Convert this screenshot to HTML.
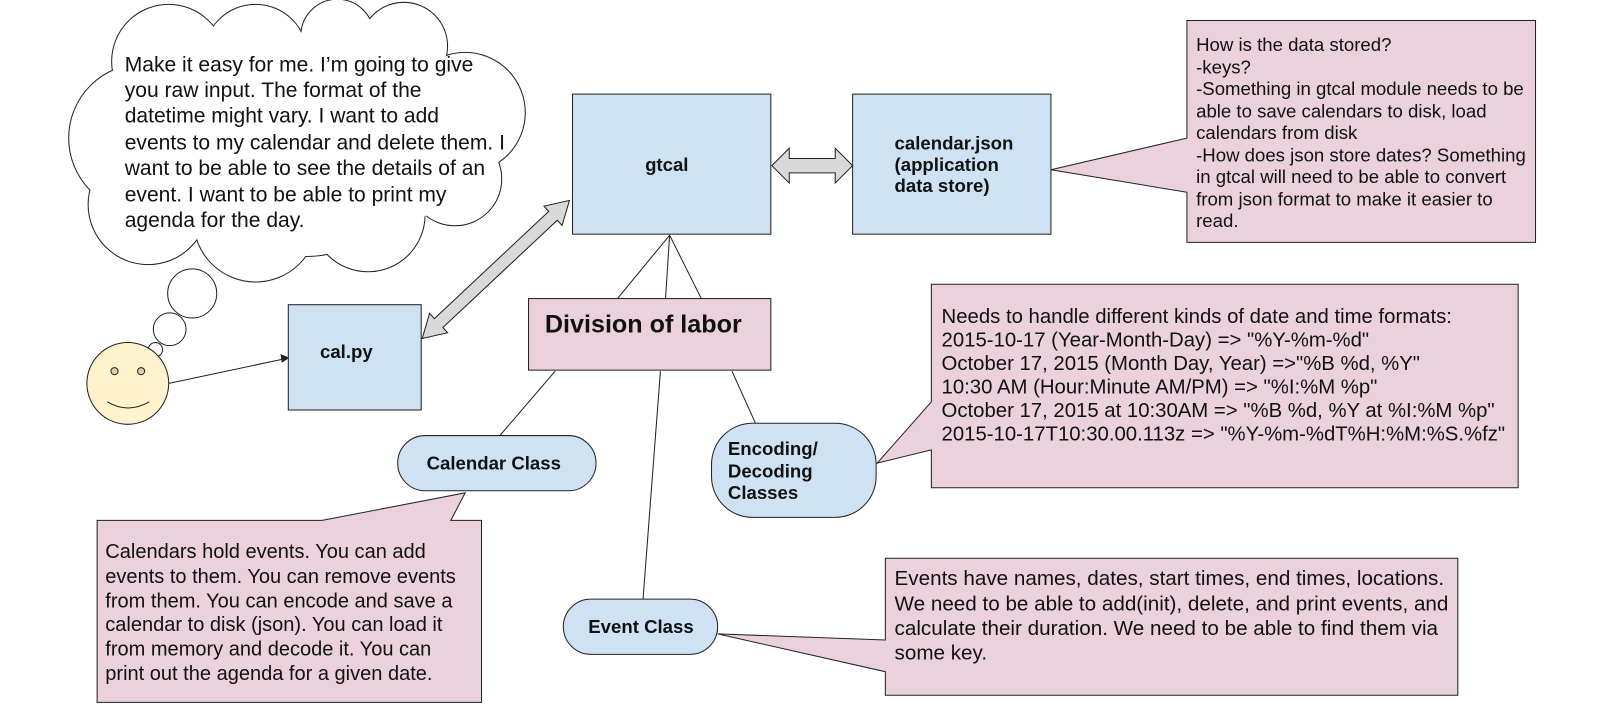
<!DOCTYPE html>
<html><head><meta charset="utf-8"><style>
html,body{margin:0;padding:0;background:#fff;}
svg{display:block;font-family:"Liberation Sans",Arial,sans-serif;}
.t{font-size:17px;fill:#111;}
.s{font-size:18.2px;fill:#111;}
.b{font-size:18.2px;font-weight:bold;fill:#111;}
</style></head><body>
<svg width="1603" height="728" viewBox="0 0 1568 712" xmlns="http://www.w3.org/2000/svg">
<g stroke="#222" stroke-width="1">
<!-- cloud outline -->
<g fill="#fff" stroke-width="2.6">
<circle cx="165" cy="60" r="55"/><circle cx="250" cy="55" r="50"/><circle cx="330" cy="35" r="35"/><circle cx="395" cy="45" r="42"/>
<circle cx="455" cy="110" r="58"/><circle cx="445" cy="175" r="45"/><circle cx="140" cy="135" r="72"/><circle cx="145" cy="200" r="58"/>
<circle cx="250" cy="215" r="60"/><circle cx="360" cy="210" r="55"/><circle cx="300" cy="150" r="100"/>
</g>
<g fill="#fff" stroke="#fff" stroke-width="0.6">
<circle cx="165" cy="60" r="55"/><circle cx="250" cy="55" r="50"/><circle cx="330" cy="35" r="35"/><circle cx="395" cy="45" r="42"/>
<circle cx="455" cy="110" r="58"/><circle cx="445" cy="175" r="45"/><circle cx="140" cy="135" r="72"/><circle cx="145" cy="200" r="58"/>
<circle cx="250" cy="215" r="60"/><circle cx="360" cy="210" r="55"/><circle cx="300" cy="150" r="100"/>
<ellipse cx="290" cy="140" rx="190" ry="95"/>
</g>
<circle cx="188" cy="287" r="24" fill="#fff"/><circle cx="166" cy="322" r="16" fill="#fff"/><circle cx="152" cy="342" r="7" fill="#fff"/>
<!-- face -->
<circle cx="125" cy="375" r="40" fill="#fff2cc"/>
<circle cx="112" cy="363" r="3.5" fill="#d9cfae"/><circle cx="138" cy="363" r="3.5" fill="#d9cfae"/>
<path d="M105 393 Q125 405 146 393" fill="none"/>
<line x1="165" y1="375" x2="278" y2="351"/>
<polygon points="282,350 275,347 276,354" fill="#222"/>
<!-- connectors -->
<line x1="655" y1="230" x2="604" y2="292"/><line x1="655" y1="230" x2="651" y2="292"/><line x1="655" y1="230" x2="686" y2="292"/>
<line x1="543" y1="363" x2="489" y2="426"/><line x1="646" y1="363" x2="629" y2="586"/><line x1="716" y1="363" x2="739" y2="414"/>
<!-- boxes -->
<rect x="560" y="92" width="194" height="137" fill="#cfe2f3"/>
<rect x="834" y="92" width="194" height="137" fill="#cfe2f3"/>
<rect x="282" y="298" width="130" height="103" fill="#cfe2f3"/>
<rect x="517" y="292" width="237" height="70" fill="#ead1dc"/>
<rect x="389" y="426" width="194" height="54" rx="27" fill="#cfe2f3"/>
<rect x="696" y="414" width="161" height="92" rx="40" fill="#cfe2f3"/>
<rect x="551" y="586" width="151" height="54" rx="27" fill="#cfe2f3"/>
<!-- callouts -->
<polygon points="1161,20 1502,20 1502,237 1161,237 1161,188 1028,166 1161,135" fill="#ead1dc"/>
<polygon points="911,278 1485,278 1485,477 911,477 911,440 858,453 911,393" fill="#ead1dc"/>
<polygon points="866,546 1426,546 1426,680 866,680 866,657 702,620 866,626" fill="#ead1dc"/>
<polygon points="95,509 315,509 455,482 441,509 471,509 471,687 95,687" fill="#ead1dc"/>
<!-- block arrows -->
<polygon points="755,162 772,145 772,155 817,155 817,145 834,162 817,179 817,169 772,169 772,179" fill="#d9d9d9"/>
<polygon id="da" fill="#d9d9d9"/>
</g>
<script>
(function(){var x1=413,y1=331,x2=557,y2=196,hw=13,sw=6,hl=22;
var dx=x2-x1,dy=y2-y1,L=Math.hypot(dx,dy),ux=dx/L,uy=dy/L,nx=-uy,ny=ux;
function p(t,o){return (x1+ux*t+nx*o).toFixed(1)+","+(y1+uy*t+ny*o).toFixed(1);}
document.getElementById("da").setAttribute("points",[p(0,0),p(hl,hw),p(hl,sw),p(L-hl,sw),p(L-hl,hw),p(L,0),p(L-hl,-hw),p(L-hl,-sw),p(hl,-sw),p(hl,-hw)].join(" "));})();
</script>
<!-- text -->
<g class="t" style="font-size:20.6px">
<text x="122" y="70">Make it easy for me. I’m going to give</text>
<text x="122" y="95">you raw input. The format of the</text>
<text x="122" y="120">datetime might vary. I want to add</text>
<text x="122" y="146">events to my calendar and delete them. I</text>
<text x="122" y="171">want to be able to see the details of an</text>
<text x="122" y="197">event. I want to be able to print my</text>
<text x="122" y="222">agenda for the day.</text>
</g>
<text class="b" x="631" y="167">gtcal</text>
<text class="b" x="875" y="146">calendar.json</text>
<text class="b" x="875" y="167">(application</text>
<text class="b" x="875" y="188">data store)</text>
<text class="b" x="313" y="350">cal.py</text>
<text class="b" x="533" y="325" style="font-size:24.6px">Division of labor</text>
<text class="b" x="483" y="459" text-anchor="middle">Calendar Class</text>
<text class="b" x="712" y="445">Encoding/</text>
<text class="b" x="712" y="467">Decoding</text>
<text class="b" x="712" y="488">Classes</text>
<text class="b" x="627" y="619" text-anchor="middle">Event Class</text>
<g class="s">
<text x="1170" y="50">How is the data stored?</text>
<text x="1170" y="72">-keys?</text>
<text x="1170" y="93">-Something in gtcal module needs to be</text>
<text x="1170" y="115">able to save calendars to disk, load</text>
<text x="1170" y="136">calendars from disk</text>
<text x="1170" y="158">-How does json store dates? Something</text>
<text x="1170" y="179">in gtcal will need to be able to convert</text>
<text x="1170" y="201">from json format to make it easier to</text>
<text x="1170" y="222">read.</text>
</g>
<g class="t" style="font-size:19.9px">
<text x="921" y="316">Needs to handle different kinds of date and time formats:</text>
<text x="921" y="339">2015-10-17 (Year-Month-Day) =&gt; "%Y-%m-%d"</text>
<text x="921" y="362">October 17, 2015 (Month Day, Year) =&gt;"%B %d, %Y"</text>
<text x="921" y="385">10:30 AM (Hour:Minute AM/PM)  =&gt; "%I:%M %p"</text>
<text x="921" y="408">October 17, 2015 at 10:30AM =&gt; "%B %d, %Y at %I:%M %p"</text>
<text x="921" y="431">2015-10-17T10:30.00.113z =&gt;  "%Y-%m-%dT%H:%M:%S.%fz"</text>
</g>
<g class="t" style="font-size:20.2px">
<text x="875" y="572">Events have names, dates, start times, end times, locations.</text>
<text x="875" y="597">We need to be able to add(init), delete, and print events, and</text>
<text x="875" y="621">calculate their duration. We need to be able to find them via</text>
<text x="875" y="645">some key.</text>
</g>
<g class="t" style="font-size:19.6px">
<text x="103" y="546">Calendars hold events. You can add</text>
<text x="103" y="570">events to them. You can remove events</text>
<text x="103" y="594">from them. You can encode and save a</text>
<text x="103" y="617">calendar to disk (json). You can load it</text>
<text x="103" y="641">from memory and decode it. You can</text>
<text x="103" y="665">print out the agenda for a given date.</text>
</g>
</svg>
</body></html>
